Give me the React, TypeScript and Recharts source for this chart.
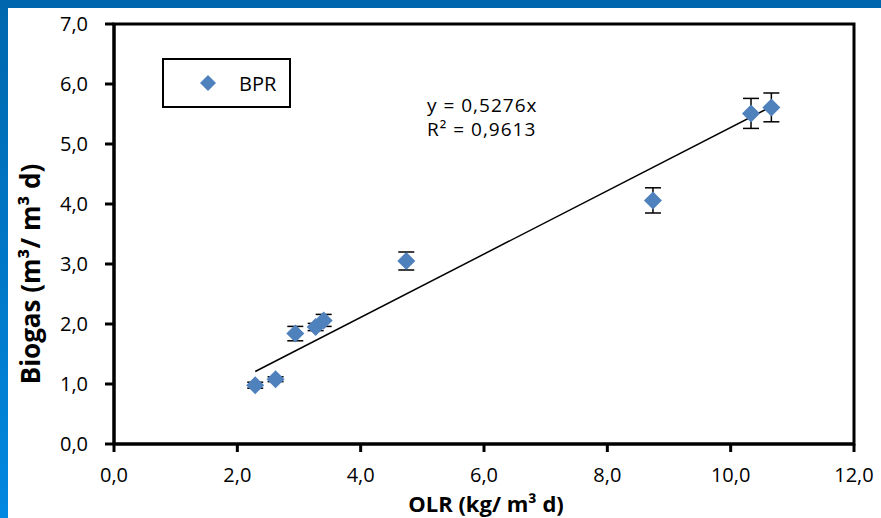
import React from "react";
import {
  ScatterChart,
  Scatter,
  XAxis,
  YAxis,
  ErrorBar,
  ReferenceArea,
} from "recharts";

const olr = [2.29, 2.62, 2.94, 3.27, 3.4, 4.74, 8.74, 10.33, 10.66];
const biogas = [0.98, 1.08, 1.84, 1.95, 2.06, 3.05, 4.06, 5.51, 5.61];
const errors = [0.05, 0.04, 0.12, 0.06, 0.1, 0.15, 0.21, 0.25, 0.24];
const slope = 0.5276;
const xTicks = [0, 2, 4, 6, 8, 10, 12];
const yTicks = [0, 1, 2, 3, 4, 5, 6, 7];

const BLUE = "#4f81bd";
const FONT = "'Open Sans', sans-serif";

const points = olr.map((x, i) => ({ x, y: biogas[i], err: errors[i] }));
const xMin = Math.min(...olr);
const xMax = Math.max(...olr);
const trend = [
  { x: xMin, y: slope * xMin },
  { x: xMax, y: slope * xMax },
];

const comma = (v: number) => v.toFixed(1).replace(".", ",");

const Diamond = (props: any) => {
  const { cx, cy } = props;
  const r = 9;
  return (
    <path
      d={`M${cx},${cy - r} L${cx + r},${cy} L${cx},${cy + r} L${cx - r},${cy} Z`}
      fill={BLUE}
    />
  );
};

const YTitle = () => (
  <text
    x={30}
    y={274}
    transform="rotate(-90, 30, 274)"
    textAnchor="middle"
    dominantBaseline="central"
    fill="#000"
    fontSize={26}
    fontWeight={700}
    fontFamily={FONT}
  >
    Biogas (m³/ m³ d)
  </text>
);

const XTitle = () => (
  <text
    x={486}
    y={512}
    textAnchor="middle"
    fill="#000"
    fontSize={22}
    fontWeight={700}
    fontFamily={FONT}
  >
    OLR (kg/ m³ d)
  </text>
);

export default function App() {
  return (
    <div
      style={{
        position: "fixed",
        left: 0,
        top: 0,
        width: 881,
        height: 518,
        background: "#fff",
        overflow: "hidden",
      }}
    >
      <div style={{ position: "absolute", left: 0, top: 0, width: 881, height: 8, background: "#0067ae" }} />
      <div
        style={{
          position: "absolute",
          left: 0,
          top: 0,
          width: 8,
          height: 518,
          background: "linear-gradient(#0067ae, #0288e0)",
        }}
      />
      <ScatterChart
        width={881}
        height={518}
        margin={{ top: 24, right: 27, bottom: 44, left: 44 }}
        style={{ position: "absolute", left: 0, top: 0 }}
      >
        <XAxis
          type="number"
          dataKey="x"
          domain={[0, 12]}
          ticks={xTicks}
          tickFormatter={comma}
          height={30}
          axisLine={{ stroke: "#000", strokeWidth: 3 }}
          tickLine={{ stroke: "#000", strokeWidth: 3 }}
          tickSize={8}
          tickMargin={16}
          tick={{ fill: "#000", fontSize: 20, fontFamily: FONT }}
          label={{ content: <XTitle /> }}
        />
        <YAxis
          type="number"
          dataKey="y"
          domain={[0, 7]}
          ticks={yTicks}
          tickFormatter={comma}
          width={70}
          axisLine={{ stroke: "#000", strokeWidth: 3 }}
          tickLine={{ stroke: "#000", strokeWidth: 3 }}
          tickSize={9}
          tickMargin={17}
          tick={{ fill: "#000", fontSize: 20, fontFamily: FONT }}
          label={{ content: <YTitle /> }}
        />
        <ReferenceArea x1={0} x2={12} y1={0} y2={7} fill="none" stroke="#000" strokeWidth={3} />
        <Scatter
          name="trend"
          data={trend}
          line={{ stroke: "#000", strokeWidth: 1.5 }}
          shape={() => null}
          legendType="none"
          isAnimationActive={false}
        />
        <Scatter name="BPR" data={points} shape={<Diamond />} isAnimationActive={false}>
          <ErrorBar dataKey="err" direction="y" width={8} stroke="#000" strokeWidth={1.5} />
        </Scatter>
      </ScatterChart>
      <svg
        width={881}
        height={518}
        style={{ position: "absolute", left: 0, top: 0, pointerEvents: "none" }}
      >
        <rect x={163} y={59} width={127} height={48} fill="#fff" stroke="#000" strokeWidth={2} />
        <path d="M208,75 L216,83 L208,91 L200,83 Z" fill={BLUE} />
        <text x={239} y={91} fontSize={20} fontFamily={FONT} fill="#000">
          BPR
        </text>
        <text x={427} y={112} fontSize={19} fontFamily={FONT} fill="#000" letterSpacing={1}>
          y = 0,5276x
        </text>
        <text x={427} y={136} fontSize={19} fontFamily={FONT} fill="#000" letterSpacing={1}>
          R² = 0,9613
        </text>
      </svg>
    </div>
  );
}
